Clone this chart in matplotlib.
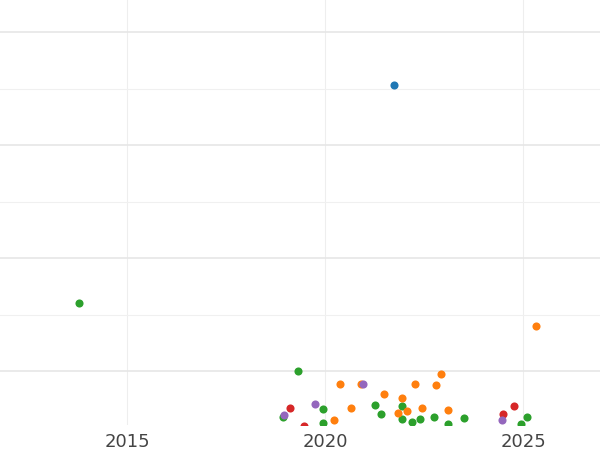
import matplotlib.pyplot as plt

blue_x = [2021.74]
blue_y = [6.06]
green_x = [2013.78, 2019.32, 2018.94, 2019.95, 2019.95, 2021.26, 2021.41, 2021.94, 2021.94,
           2022.19, 2022.40, 2022.75, 2023.10, 2023.51, 2024.95, 2025.10]
green_y = [2.20, 1.00, 0.19, 0.33, 0.08, 0.40, 0.24, 0.38, 0.15,
           0.10, 0.15, 0.19, 0.06, 0.17, 0.06, 0.20]
orange_x = [2025.33, 2022.93, 2020.38, 2020.91, 2022.27, 2022.80, 2020.65, 2020.22, 2021.49,
            2021.94, 2021.84, 2022.07, 2022.45, 2023.10]
orange_y = [1.81, 0.96, 0.77, 0.77, 0.77, 0.75, 0.35, 0.13, 0.59,
            0.52, 0.26, 0.29, 0.35, 0.31]
red_x = [2019.11, 2019.47, 2024.77, 2024.49]
red_y = [0.35, 0.04, 0.38, 0.24]
purple_x = [2020.96, 2019.74, 2018.96, 2024.47]
purple_y = [0.77, 0.43, 0.22, 0.13]

fig = plt.figure(figsize=(6, 4.5), dpi=100)
ax = fig.add_axes([0, 25 / 450, 1, 425 / 450])

for xs, ys, c in [(green_x, green_y, "#2ca02c"), (orange_x, orange_y, "#ff7f0e"),
                  (red_x, red_y, "#d62728"), (purple_x, purple_y, "#9467bd"),
                  (blue_x, blue_y, "#1f77b4")]:
    ax.scatter(xs, ys, s=34, color=c, zorder=3, clip_on=True, linewidths=0)

ax.set_xlim(2011.79, 2026.94)
ax.set_ylim(0.05, 7.57)
ax.set_xticks([2015, 2020, 2025])
ax.set_yticks([1, 3, 5, 7])
ax.set_yticks([2, 4, 6], minor=True)
ax.grid(True, which="major", color="#e6e6e6", linewidth=1.2)
ax.grid(True, which="minor", axis="y", color="#f0f0f0", linewidth=0.8)
ax.grid(True, which="major", axis="x", color="#eeeeee", linewidth=0.8)
ax.set_axisbelow(True)
for s in ax.spines.values():
    s.set_visible(False)
ax.tick_params(axis="y", which="both", left=False, labelleft=False)
ax.tick_params(axis="x", length=0, labelsize=13, labelcolor="#444444", pad=6)

fig.savefig("out.png", dpi=100)
